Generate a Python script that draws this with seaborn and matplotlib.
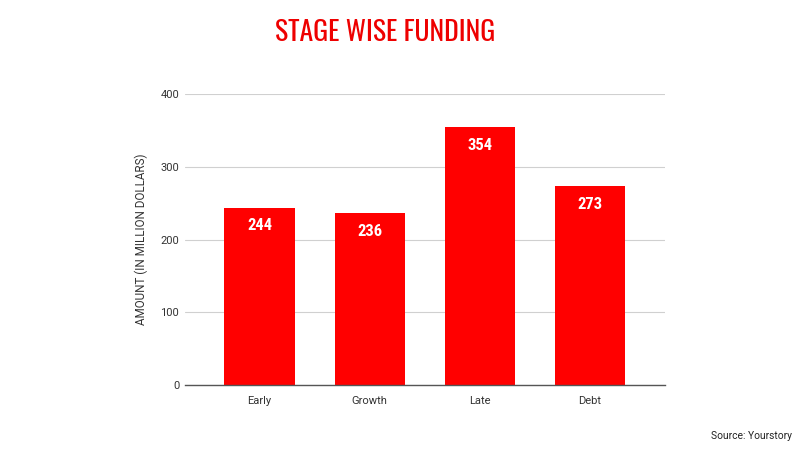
import matplotlib
matplotlib.use("Agg")
import matplotlib.pyplot as plt
import seaborn as sns
import pandas as pd

categories = ["Early", "Growth", "Late", "Debt"]
values = [244, 236, 354, 273]
yticks = [0, 100, 200, 300, 400]

sns.set_theme(style="white")
plt.rcParams['font.family'] = ['Roboto', 'DejaVu Sans']

title_fam = ['Oswald', 'Roboto Condensed', 'DejaVu Sans']
label_fam = ['Roboto Condensed', 'Oswald', 'DejaVu Sans']

df = pd.DataFrame({"stage": categories, "amount": values})
fig = plt.figure(figsize=(8, 4.5), dpi=100)
ax = fig.add_axes([0.231, 0.1444, 0.6, 0.6467])
sns.barplot(data=df, x="stage", y="amount", color="#ff0000", saturation=1,
            width=0.64, ax=ax, zorder=3)
for p in ax.patches:
    p.set_edgecolor("none")
ax.set_xlim(-0.68, 3.68)
ax.set_ylim(0, 400)
ax.set_yticks(yticks)
ax.set_yticklabels([str(t) for t in yticks], color="#333333", fontsize=8)
ax.grid(axis="y", color="#d0d0d0", linewidth=0.8, zorder=0)
ax.tick_params(axis="y", length=0, pad=4)
ax.tick_params(axis="x", length=0, labelsize=8, labelcolor="#333333", pad=8)
for s in ["top", "right", "left"]:
    ax.spines[s].set_visible(False)
ax.spines["bottom"].set_color("#555555")
ax.spines["bottom"].set_linewidth(1)
ax.spines["bottom"].set_zorder(4)
ax.set_xlabel("")
ax.set_ylabel("AMOUNT (IN MILLION DOLLARS)", fontsize=8.4, color="#333333", labelpad=9)

for i, v in enumerate(values):
    ax.annotate(str(v), (i, v), xytext=(0, -13), textcoords="offset points",
                ha="center", va="center", color="white", fontsize=12,
                fontweight="bold", family=label_fam, zorder=5)

fig.text(0.481, 0.928, "STAGE WISE FUNDING", ha="center", va="center",
         fontsize=20, fontweight="heavy", color="#ee0000", family=title_fam)
fig.text(0.99, 0.032, "Source: Yourstory", ha="right", va="center",
         fontsize=7.4, color="#222222")

fig.savefig("out.png", dpi=100)
